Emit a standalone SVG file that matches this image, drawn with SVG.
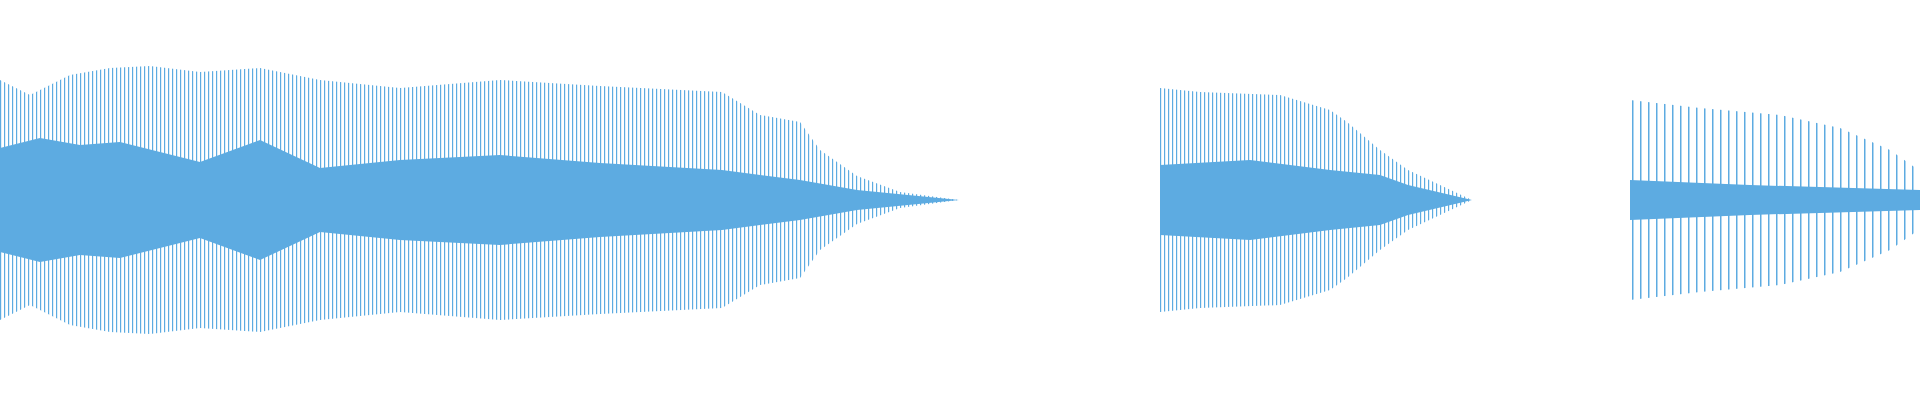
<svg xmlns="http://www.w3.org/2000/svg" width="1920" height="400" viewBox="0 0 1920 400">
<defs>
<pattern id="p1" width="4" height="400" patternUnits="userSpaceOnUse"><rect x="0" y="0" width="1.2" height="400" fill="#5DABE1"/></pattern>
<pattern id="p2" width="8" height="400" patternUnits="userSpaceOnUse"><rect x="0" y="0" width="1.5" height="400" fill="#5DABE1"/></pattern>
</defs>
<rect width="1920" height="400" fill="#fff"/>
<g id="seg1">
<path fill="url(#p1)" d="M0,80 L30,95 L70,75 L110,68 L150,66 L200,72 L260,68 L320,80 L400,88 L500,80 L600,86 L722,92 L760,115 L800,122 L820,150 L857,176 L900,192 L959,200 L900,208 L857,224 L820,250 L800,278 L760,285 L722,308 L600,314 L500,320 L400,312 L320,320 L260,332 L200,328 L150,334 L110,332 L70,325 L30,305 L0,320 Z"/>
<path fill="#5DABE1" d="M0,148 L40,138 L80,145 L120,142 L200,162 L260,140 L320,168 L400,160 L500,155 L600,163 L722,170 L800,180 L857,190 L959,200 L857,210 L800,220 L722,230 L600,237 L500,245 L400,240 L320,232 L260,260 L200,238 L120,258 L80,255 L40,262 L0,252 Z"/>
</g>
<g id="seg2">
<path fill="url(#p1)" d="M1160,88 L1200,92 L1280,95 L1330,110 L1347,122 L1380,150 L1408,170 L1472,200 L1408,230 L1380,250 L1347,278 L1330,290 L1280,305 L1200,308 L1160,312 Z"/>
<path fill="#5DABE1" d="M1160,165 L1250,160 L1330,170 L1380,175 L1408,185 L1472,200 L1408,215 L1380,225 L1330,230 L1250,240 L1160,235 Z"/>
</g>
<g id="seg3">
<path fill="url(#p2)" d="M1630,100 L1700,108 L1780,115 L1840,128 L1890,150 L1920,171 L1920,229 L1890,250 L1840,272 L1780,285 L1700,292 L1630,300 Z"/>
<path fill="#5DABE1" d="M1630,180 L1750,185 L1920,190 L1920,210 L1750,215 L1630,220 Z"/>
</g>
</svg>
